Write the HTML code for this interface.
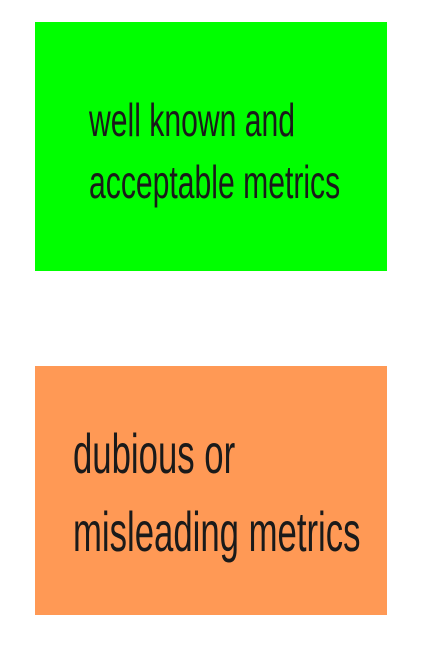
<!DOCTYPE html>
<html><head><style>
body{margin:0;width:421px;height:656px;background:#fff;position:relative;overflow:hidden;font-family:"Liberation Sans Narrow","Liberation Sans",sans-serif;color:#1a1a1a}
.b{position:absolute;left:35px;width:352px;height:249px}
.t{position:absolute;white-space:nowrap;transform-origin:0 0}
</style></head><body>
<div class="b" style="top:22px;background:#00ff00"></div>
<div class="b" style="top:366px;background:#ff9955"></div>
<div class="t" style="left:89px;top:89px;font-size:46px;line-height:62px;transform:scaleX(0.655)">well known and<br>acceptable metrics</div>
<div class="t" style="left:73px;top:415px;font-size:56px;line-height:78px;transform:scaleX(0.62)">dubious or<br>misleading metrics</div>
</body></html>
